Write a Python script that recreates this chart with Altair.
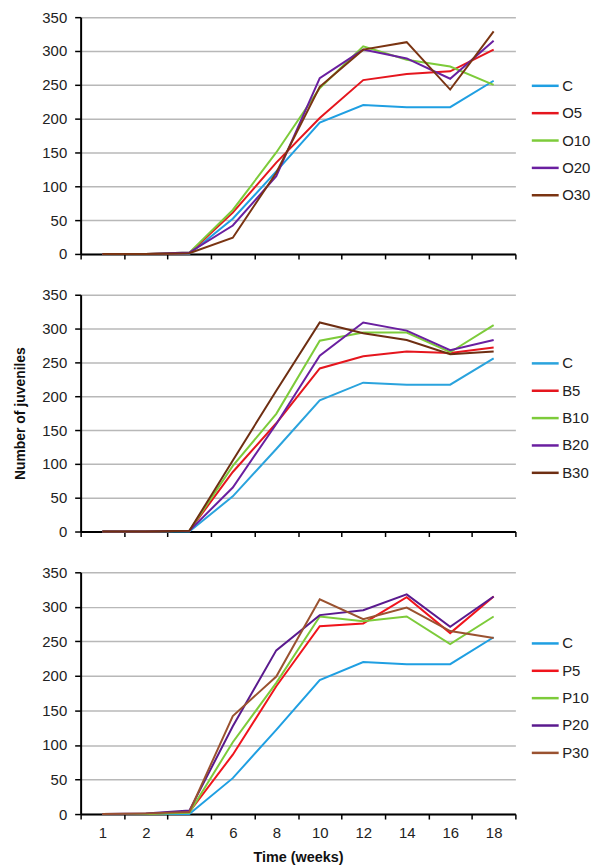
import altair as alt
import pandas as pd

weeks = ["1", "2", "4", "6", "8", "10", "12", "14", "16", "18"]

C = [0, 0, 0, 52, 122, 194, 220, 217, 217, 256]

O5 = [0, 0, 1, 61, 135, 201, 257, 266, 270, 302]
O10 = [0, 0, 2, 65, 150, 245, 307, 287, 277, 250]
O20 = [0, 0, 2, 42, 115, 260, 302, 289, 259, 315]
O30 = [0, 0, 1, 24, 120, 247, 302, 313, 243, 329]

B5 = [0, 0, 1, 88, 160, 241, 259, 266, 264, 272]
B10 = [0, 0, 1, 97, 174, 282, 294, 294, 265, 305]
B20 = [0, 0, 1, 65, 159, 260, 309, 297, 268, 283]
B30 = [0, 0, 1, 105, 208, 309, 293, 283, 262, 266]

P5 = [0, 0, 3, 86, 185, 272, 276, 314, 262, 315]
P10 = [0, 0, 2, 104, 190, 286, 279, 286, 246, 286]
P20 = [0, 1, 5, 127, 237, 288, 295, 318, 271, 315]
P30 = [0, 1, 3, 142, 199, 311, 282, 299, 265, 255]

panels = [
    (["C", "O5", "O10", "O20", "O30"], [C, O5, O10, O20, O30],
     ["#1f9fe2", "#e5161e", "#7dcb3a", "#6a1fa0", "#7a3412"]),
    (["C", "B5", "B10", "B20", "B30"], [C, B5, B10, B20, B30],
     ["#2aa3dd", "#e5161e", "#7dcb3a", "#6a1fa0", "#6e2e12"]),
    (["C", "P5", "P10", "P20", "P30"], [C, P5, P10, P20, P30],
     ["#1f9fe2", "#f0141c", "#7dcb3a", "#5a1a8e", "#9a5230"]),
]

FONT = "Liberation Sans"
heights = [238, 238, 243]
charts = []
for i, (names, series, colors) in enumerate(panels):
    rows = []
    for n, vals in zip(names, series):
        for w, v in zip(weeks, vals):
            rows.append({"week": w, "value": v, "series": n})
    df = pd.DataFrame(rows)
    bottom = i == 2
    middle = i == 1
    x_axis = alt.Axis(
        title="Time (weeks)" if bottom else None,
        labels=bottom,
        labelAngle=0,
        tickBand="extent",
        tickSize=5,
        tickColor="black",
        tickWidth=1.5,
        domainColor="black",
        domainWidth=2,
        grid=False,
        labelFontSize=15,
        labelFont=FONT,
        labelColor="#222",
        labelPadding=7,
        titleFontSize=14.5,
        titleFont=FONT,
        titleFontWeight="bold",
        titleColor="#111",
        titlePadding=10,
    )
    y_axis = alt.Axis(
        title="Number of juveniles" if middle else "",
        values=[0, 50, 100, 150, 200, 250, 300, 350],
        tickSize=6,
        tickColor="black",
        tickWidth=1.5,
        domainColor="black",
        domainWidth=2,
        grid=True,
        gridColor="#b8b8b8",
        gridWidth=1.5,
        labelFontSize=15,
        labelFont=FONT,
        labelColor="#222",
        labelPadding=8,
        titleFontSize=14,
        titleFont=FONT,
        titleFontWeight="bold",
        titleColor="#111",
        titlePadding=14,
    )
    ch = alt.Chart(df).mark_line(strokeWidth=2).encode(
        x=alt.X("week:O", sort=weeks, axis=x_axis,
                scale=alt.Scale(type="band", paddingInner=0, paddingOuter=0)),
        y=alt.Y("value:Q", axis=y_axis,
                scale=alt.Scale(domain=[0, 350], nice=False)),
        color=alt.Color(
            "series:N",
            sort=names,
            scale=alt.Scale(domain=names, range=colors),
            legend=alt.Legend(
                title=None,
                orient="none",
                legendX=452,
                legendY=heights[i] / 2 - 65,
                symbolType="stroke",
                symbolSize=729,
                symbolStrokeWidth=2.5,
                labelFontSize=15,
                labelFont=FONT,
                labelColor="#222",
                labelOffset=2,
                rowPadding=4.5,
                padding=0,
            ),
        ),
        detail="series:N",
    ).properties(width=437, height=heights[i])
    charts.append(ch)

chart = alt.vconcat(*charts, spacing=26).resolve_scale(color="independent").properties(
    padding={"left": 5, "top": 0, "right": 0, "bottom": 0}
).configure_view(stroke=None)

chart.save("out.html", embed_options={"renderer": "svg", "actions": False})
